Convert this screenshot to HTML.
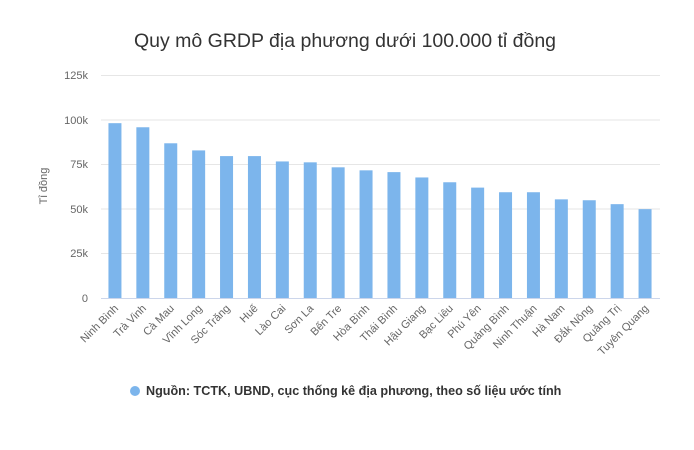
<!DOCTYPE html>
<html><head><meta charset="utf-8"><style>body{margin:0;background:#fff}svg{display:block}text{font-family:"Liberation Sans","DejaVu Sans",sans-serif}</style></head><body>
<svg width="694" height="450" xmlns="http://www.w3.org/2000/svg">
<rect width="694" height="450" fill="#fff"/>
<text x="345" y="47" text-anchor="middle" font-size="19.5" fill="#333">Quy mô GRDP địa phương dưới 100.000 tỉ đồng</text>
<g stroke="#e6e6e6" stroke-width="1">
<line x1="101" x2="660" y1="75.5" y2="75.5"/><line x1="101" x2="660" y1="120" y2="120"/><line x1="101" x2="660" y1="164.5" y2="164.5"/><line x1="101" x2="660" y1="209" y2="209"/><line x1="101" x2="660" y1="253.5" y2="253.5"/>
</g>
<g font-size="11" fill="#666" text-anchor="end">
<text x="88" y="79">125k</text><text x="88" y="124">100k</text><text x="88" y="168">75k</text><text x="88" y="213">50k</text><text x="88" y="257">25k</text><text x="88" y="302">0</text>
</g>
<text transform="translate(47,186) rotate(-90)" text-anchor="middle" font-size="11" fill="#666">Tỉ đồng</text>
<g fill="#7cb5ec" id="bars"></g>
<line x1="101" x2="660" y1="298.5" y2="298.5" stroke="#ccd6eb"/>
<g font-size="11" fill="#666" id="labels"></g>
<circle cx="135" cy="391" r="5" fill="#7cb5ec"/>
<text x="146" y="395" font-size="12.6" font-weight="bold" fill="#333">Nguồn: TCTK, UBND, cục thống kê địa phương, theo số liệu ước tính</text>
<script>
var n=["Ninh Bình","Trà Vinh","Cà Mau","Vĩnh Long","Sóc Trăng","Huế","Lào Cai","Sơn La","Bến Tre","Hòa Bình","Thái Bình","Hậu Giang","Bạc Liêu","Phú Yên","Quảng Bình","Ninh Thuận","Hà Nam","Đắk Nông","Quảng Trị","Tuyên Quang"];
var v=[98.5,96.2,87.2,83.2,80,80,77,76.5,73.7,72,71,68,65.3,62.3,59.7,59.7,55.7,55.2,53,50.2];
var b=document.getElementById("bars"),l=document.getElementById("labels"),ns="http://www.w3.org/2000/svg";
for(var i=0;i<20;i++){var c=101+27.9*(i+0.5);var h=v[i]*1.78;
var r=document.createElementNS(ns,"rect");r.setAttribute("x",c-6.5);r.setAttribute("y",298.5-h);r.setAttribute("width",13);r.setAttribute("height",h);b.appendChild(r);
var t=document.createElementNS(ns,"text");t.setAttribute("text-anchor","end");t.setAttribute("transform","translate("+(c+4)+",309) rotate(-45)");t.textContent=n[i];l.appendChild(t);}
</script>
</svg>
</body></html>
